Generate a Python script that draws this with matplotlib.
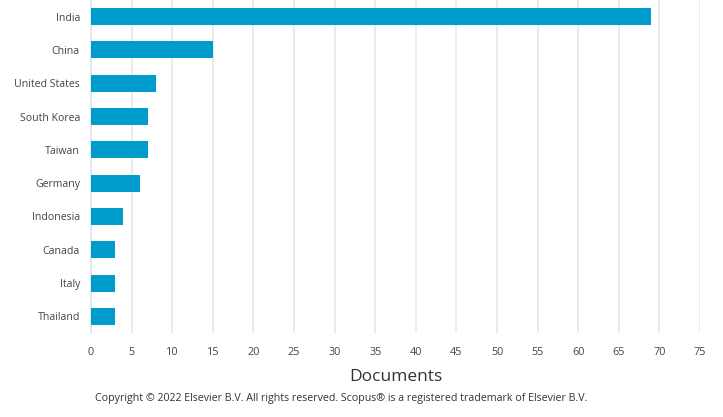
import matplotlib
matplotlib.use("Agg")
import matplotlib.pyplot as plt
import numpy as np

countries = ["India", "China", "United States", "South Korea", "Taiwan",
             "Germany", "Indonesia", "Canada", "Italy", "Thailand"]
documents = [69, 15, 8, 7, 7, 6, 4, 3, 3, 3]
xticks = list(range(0, 80, 5))

plt.rcParams['font.family'] = ['Open Sans', 'DejaVu Sans']

fig = plt.figure(figsize=(7.23, 4.17), dpi=100)
ax = fig.add_axes([91/723, 84/417, (700-91)/723, 333/417])

y = np.arange(len(countries))
ax.barh(y, documents, height=0.51, color='#009DCC', zorder=3)
ax.set_ylim(len(countries) - 0.5, -0.5)
ax.set_xlim(0, 75)
ax.set_yticks(y)
ax.set_yticklabels(countries, fontsize=7.6, color='#444444')
ax.set_xticks(xticks)
ax.set_xticklabels([str(t) for t in xticks], fontsize=7.8, color='#444444')
ax.tick_params(axis='both', length=0)
ax.tick_params(axis='y', pad=8)
ax.tick_params(axis='x', pad=10)
ax.grid(axis='x', color='#e8e8e8', linewidth=1.2, zorder=0)
for s in ['top', 'right', 'bottom']:
    ax.spines[s].set_visible(False)
ax.spines['left'].set_color('#dde6f0')
ax.spines['left'].set_linewidth(1.2)

fig.text(396/723, 1 - 377/417, "Documents", fontsize=12.5, color='#333333',
         ha='center', va='center')
fig.text(341/723, 1 - 398/417,
         "Copyright © 2022 Elsevier B.V. All rights reserved. Scopus® is a registered trademark of Elsevier B.V.",
         fontsize=7.65, color='#333333', ha='center', va='center')

fig.savefig("out.png", dpi=100)
